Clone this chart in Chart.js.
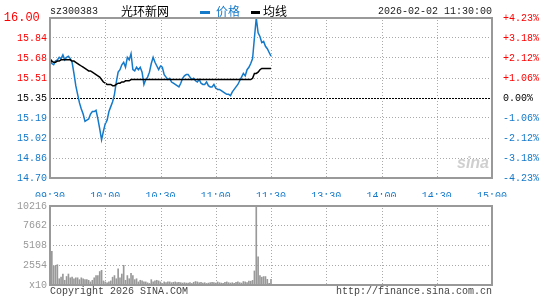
<!DOCTYPE html>
<html>
<head>
<meta charset="utf-8">
<script src="https://cdn.jsdelivr.net/npm/chart.js@4.4.1/dist/chart.umd.min.js"></script>
<style>
body{margin:0;background:#fff;width:545px;height:300px;position:relative;overflow:hidden;font-family:'Liberation Mono',monospace}
canvas{position:absolute;left:0}
.t{position:absolute;white-space:nowrap;font-size:10px;line-height:12px}
.cn{position:absolute;white-space:nowrap;font:12px/12px 'Noto Sans CJK SC',sans-serif}
.mk{position:absolute;height:3px}
</style>
</head>
<body>
<canvas id="price" width="545" height="197" style="top:0"></canvas>
<canvas id="vol" width="545" height="103" style="top:197px"></canvas>

<div class="t" style="left:50px;top:6px;color:#222">sz300383</div>
<div class="cn" style="left:121px;top:5px;color:#000">光环新网</div>
<div class="mk" style="left:200px;top:11px;width:10px;background:#1479c9"></div>
<div class="cn" style="left:216px;top:5px;color:#1479c9">价格</div>
<div class="mk" style="left:251px;top:11px;width:9px;background:#000"></div>
<div class="cn" style="left:263px;top:5px;color:#000">均线</div>
<div class="t" style="left:378px;top:6px;color:#222">2026-02-02 11:30:00</div>
<div class="t" style="left:457px;top:155px;font:italic bold 16px/16px 'Liberation Sans',sans-serif;color:#cfcfcf">sina</div>
<div class="t" style="left:50px;top:286px;color:#444">Copyright 2026 SINA.COM</div>
<div class="t" style="left:336px;top:286px;color:#444">http://finance.sina.com.cn</div>

<script>
const prevClose = 15.35;
const priceMin = 14.70;
const priceMax = 16.00;
const volMax = 10216;

const xTickLabels = ['09:30','10:00','10:30','11:00','11:30','13:30','14:00','14:30','15:00'];
const priceTickLabels = ['14.70','14.86','15.02','15.19','15.35','15.51','15.68','15.84','16.00 '];
const pctTickLabels = ['-4.23%','-3.18%','-2.12%','-1.06%','0.00%','+1.06%','+2.12%','+3.18%','+4.23%'];
const volTickValues = [0, 2554, 5108, 7662, 10216];
const volTickLabels = ['x10','2554','5108','7662','10216'];

// one price per minute, 09:30 - 11:30
const prices = [
15.67,15.63,15.62,15.65,15.66,15.68,15.67,15.70,15.66,15.68,
15.69,15.67,15.64,15.55,15.45,15.38,15.31,15.26,15.22,15.16,
15.17,15.18,15.22,15.24,15.24,15.25,15.18,15.10,15.01,15.08,
15.14,15.17,15.24,15.28,15.32,15.38,15.48,15.56,15.58,15.62,
15.64,15.60,15.68,15.66,15.71,15.58,15.57,15.60,15.58,15.60,
15.56,15.46,15.50,15.52,15.56,15.63,15.68,15.64,15.61,15.58,
15.61,15.60,15.54,15.52,15.50,15.51,15.48,15.47,15.46,15.45,
15.44,15.47,15.51,15.53,15.54,15.54,15.52,15.50,15.51,15.49,
15.48,15.50,15.47,15.46,15.46,15.48,15.45,15.44,15.44,15.46,
15.43,15.42,15.42,15.41,15.40,15.39,15.38,15.38,15.37,15.40,
15.42,15.44,15.46,15.49,15.52,15.55,15.53,15.58,15.60,15.63,
15.67,15.84,16.00,15.88,15.85,15.80,15.81,15.77,15.75,15.72,
15.69
];

const avgPrices = [
15.67,15.65,15.64,15.64,15.65,15.65,15.66,15.66,15.66,15.66,
15.66,15.66,15.65,15.65,15.64,15.63,15.62,15.61,15.60,15.59,
15.58,15.57,15.57,15.56,15.55,15.54,15.53,15.52,15.50,15.48,
15.47,15.46,15.46,15.46,15.45,15.45,15.46,15.47,15.47,15.48,
15.48,15.49,15.49,15.49,15.50,15.50,15.50,15.50,15.50,15.50,
15.50,15.50,15.50,15.50,15.50,15.50,15.50,15.50,15.50,15.50,
15.50,15.50,15.50,15.50,15.50,15.50,15.50,15.50,15.50,15.50,
15.50,15.50,15.50,15.50,15.50,15.50,15.50,15.50,15.50,15.50,
15.50,15.50,15.50,15.50,15.50,15.50,15.50,15.50,15.50,15.50,
15.50,15.50,15.50,15.50,15.50,15.50,15.50,15.50,15.50,15.50,
15.50,15.50,15.50,15.50,15.50,15.50,15.50,15.50,15.50,15.50,
15.51,15.55,15.55,15.56,15.58,15.59,15.59,15.59,15.59,15.59,
15.59
];

const volumes = [
600,4340,2430,2550,2630,810,1010,1420,610,1100,
1420,930,1010,810,930,930,690,930,810,690,
690,610,400,610,930,1220,1220,1740,1900,530,
400,280,400,530,1010,1220,810,2100,930,1420,
2550,610,1220,810,1500,1220,690,810,400,610,
530,400,400,280,200,690,400,530,610,530,
400,200,400,300,400,400,300,350,400,300,
350,300,250,300,250,250,300,200,350,450,
400,300,350,250,300,200,250,300,350,300,
250,400,300,250,200,350,400,300,250,300,
200,350,400,300,250,450,400,300,500,490,
600,1820,10216,3650,1220,1010,1090,1090,730,200,
730
];

// minute labels for the whole trading day (241 slots)
const times = [];
for (let m = 570; m <= 690; m++) times.push(String(Math.floor(m / 60)).padStart(2, '0') + ':' + String(m % 60).padStart(2, '0'));
for (let m = 781; m <= 900; m++) times.push(String(Math.floor(m / 60)).padStart(2, '0') + ':' + String(m % 60).padStart(2, '0'));

const BLUE = '#1479c9';
const RED = '#ff0000';
const GRID = '#aaa';
Chart.defaults.font.family = 'Liberation Mono';
Chart.defaults.font.size = 10;

const tickColor = (c) => c.index < 4 ? BLUE : (c.index === 4 ? '#000' : RED);
const priceTicks = (s) => { s.ticks = priceTickLabels.map((l, k) => ({ value: priceMin + k * (priceMax - priceMin) / 8 })); };

// dotted half-hour lines placed by the x scale (inner ones only, the frame covers the edges)
const timeGrid = {
  id: 'timeGrid',
  afterDraw(chart) {
    const { ctx, chartArea: a, scales } = chart;
    ctx.save();
    ctx.fillStyle = GRID;
    for (let k = 1; k < xTickLabels.length - 1; k++) {
      const px = Math.round(scales.x.getPixelForValue(k * 30));
      for (let y = Math.round(a.top) + 2; y < a.bottom - 1; y += 3) ctx.fillRect(px, y, 1, 1);
    }
    ctx.restore();
  }
};

const frame = {
  id: 'frame',
  afterDatasetsDraw(chart) {
    const { ctx, chartArea: a } = chart;
    ctx.save();
    ctx.strokeStyle = '#999';
    ctx.lineWidth = 2;
    ctx.strokeRect(a.left, a.top, a.right - a.left, a.bottom - a.top);
    ctx.restore();
  }
};

const prevLine = {
  id: 'prevLine',
  beforeDatasetsDraw(chart) {
    const { ctx, chartArea: a, scales } = chart;
    const py = Math.round(scales.y.getPixelForValue(prevClose)) + 0.5;
    ctx.save();
    ctx.strokeStyle = '#000';
    ctx.lineWidth = 1;
    ctx.setLineDash([2, 1]);
    ctx.beginPath();
    ctx.moveTo(a.left, py);
    ctx.lineTo(a.right, py);
    ctx.stroke();
    ctx.restore();
  }
};

new Chart(document.getElementById('price'), {
  type: 'line',
  data: {
    labels: times,
    datasets: [
      { label: '均线', data: avgPrices, borderColor: '#000', borderWidth: 1.5, pointRadius: 0, tension: 0 },
      { label: '价格', data: prices, borderColor: BLUE, borderWidth: 1.5, pointRadius: 0, tension: 0 }
    ]
  },
  options: {
    responsive: false,
    animation: false,
    events: [],
    layout: { padding: { top: 18, left: 0, right: 0, bottom: 0 } },
    plugins: { legend: { display: false }, tooltip: { enabled: false } },
    scales: {
      x: {
        offset: false,
        afterFit: (s) => { s.height = 19; },
        grid: { display: false },
        border: { display: false },
        ticks: { autoSkip: false, maxRotation: 0, padding: 4, color: BLUE,
                 callback: (v) => v % 30 === 0 ? xTickLabels[v / 30] : '' }
      },
      y: {
        position: 'left',
        min: priceMin, max: priceMax,
        afterBuildTicks: priceTicks,
        afterFit: (s) => { s.width = 50; },
        grid: { color: GRID, drawTicks: false },
        border: { display: false, dash: [1, 2] },
        ticks: { padding: 3, color: tickColor,
                 font: (c) => ({ family: 'Liberation Mono', size: c.index === 8 ? 12 : 10 }),
                 callback: (v, i) => priceTickLabels[i] }
      },
      y2: {
        position: 'right',
        min: priceMin, max: priceMax,
        afterBuildTicks: priceTicks,
        afterFit: (s) => { s.width = 53; },
        grid: { display: false },
        border: { display: false },
        ticks: { padding: 3, color: tickColor, callback: (v, i) => pctTickLabels[i] }
      }
    }
  },
  plugins: [timeGrid, prevLine, frame]
});

new Chart(document.getElementById('vol'), {
  type: 'bar',
  data: {
    labels: times,
    datasets: [
      { label: '成交量', data: volumes, backgroundColor: '#999', barThickness: 1 }
    ]
  },
  options: {
    responsive: false,
    animation: false,
    events: [],
    layout: { padding: { top: 4, left: 0, right: 53, bottom: 0 } },
    plugins: { legend: { display: false }, tooltip: { enabled: false } },
    scales: {
      x: {
        offset: false,
        afterFit: (s) => { s.height = 15; },
        grid: { display: false },
        border: { display: false },
        ticks: { display: false, autoSkip: false }
      },
      y: {
        min: 0, max: volMax,
        afterBuildTicks: (s) => { s.ticks = volTickValues.map(v => ({ value: v })); },
        afterFit: (s) => { s.width = 50; },
        grid: { color: GRID, drawTicks: false },
        border: { display: false, dash: [1, 2] },
        ticks: { padding: 3, color: '#999', callback: (v, i) => volTickLabels[i] }
      }
    }
  },
  plugins: [timeGrid, frame]
});
</script>
</body>
</html>
